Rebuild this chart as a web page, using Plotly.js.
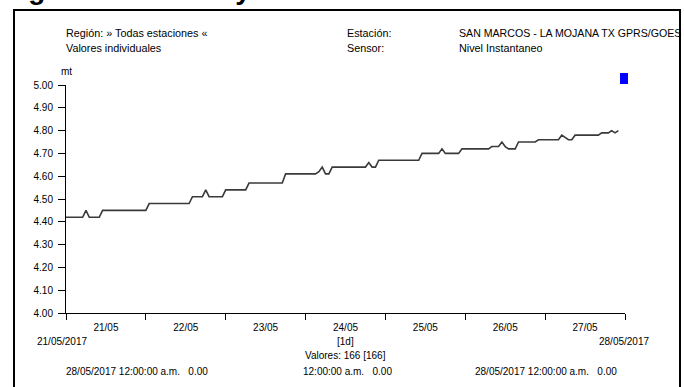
<!DOCTYPE html>
<html>
<head>
<meta charset="utf-8">
<script src="https://cdn.plot.ly/plotly-3.0.1.min.js"></script>
<style>html,body{margin:0;padding:0;background:#fff;}#chart{width:684px;height:387px;}</style>
</head>
<body>
<div id="chart"></div>
<script>
// Hourly water level readings (mt), starting 21/05/2017 00:00
const startTime = '2017-05-21T00:00:00';
const levels = [
  4.42,4.42,4.42,4.42,4.42,4.42,4.45,4.42,4.42,4.42,
  4.42,4.45,4.45,4.45,4.45,4.45,4.45,4.45,4.45,4.45,
  4.45,4.45,4.45,4.45,4.45,4.48,4.48,4.48,4.48,4.48,
  4.48,4.48,4.48,4.48,4.48,4.48,4.48,4.48,4.51,4.51,
  4.51,4.51,4.54,4.51,4.51,4.51,4.51,4.51,4.54,4.54,
  4.54,4.54,4.54,4.54,4.54,4.57,4.57,4.57,4.57,4.57,
  4.57,4.57,4.57,4.57,4.57,4.57,4.61,4.61,4.61,4.61,
  4.61,4.61,4.61,4.61,4.61,4.61,4.62,4.64,4.61,4.61,
  4.64,4.64,4.64,4.64,4.64,4.64,4.64,4.64,4.64,4.64,
  4.64,4.66,4.64,4.64,4.67,4.67,4.67,4.67,4.67,4.67,
  4.67,4.67,4.67,4.67,4.67,4.67,4.67,4.70,4.70,4.70,
  4.70,4.70,4.70,4.72,4.70,4.70,4.70,4.70,4.70,4.72,
  4.72,4.72,4.72,4.72,4.72,4.72,4.72,4.72,4.73,4.73,
  4.73,4.75,4.73,4.72,4.72,4.72,4.75,4.75,4.75,4.75,
  4.75,4.75,4.76,4.76,4.76,4.76,4.76,4.76,4.76,4.78,
  4.77,4.76,4.76,4.78,4.78,4.78,4.78,4.78,4.78,4.78,
  4.78,4.79,4.79,4.79,4.80,4.79,4.80
];
const yTicks = [4.0,4.1,4.2,4.3,4.4,4.5,4.6,4.7,4.8,4.9,5.0];
const yTickLabels = ['4.00','4.10','4.20','4.30','4.40','4.50','4.60','4.70','4.80','4.90','5.00'];
const xRange = ['2017-05-21 00:00:00','2017-05-28 00:00:00'];

const t0 = new Date(startTime + 'Z').getTime();
const times = levels.map((v,i)=> new Date(t0 + i*3600000).toISOString().replace('T',' ').slice(0,19));

const FONT = '"Liberation Sans",Arial,sans-serif';
const W = 684, H = 387, L = 66, R = 59, T = 85, B = 74;
const pw = W - L - R, ph = H - T - B;
const px = x => (x - L) / pw;
const py = y => (H - B - y) / ph;

function txt(text, x, y, xanchor, size) {
  return {text: text, xref:'paper', yref:'paper', x: px(x), y: py(y),
    xanchor: xanchor, yanchor:'middle', showarrow:false,
    font:{family:FONT, size: size || 10, color:'#000'}};
}

const annotations = [
  {text:'<b>Imagen 3. Nivel río y</b>', xref:'paper', yref:'paper', x: px(-22), y: py(7),
   xanchor:'left', yanchor:'bottom', showarrow:false, font:{family:FONT, size:28, color:'#000'}},
  txt('Región: » Todas estaciones «', 64, 33, 'left', 10.8),
  txt('Valores individuales', 64, 48, 'left', 10.8),
  txt('Estación:', 345, 33, 'left', 10.8),
  txt('Sensor:', 345, 48, 'left', 10.8),
  txt('SAN MARCOS - LA MOJANA TX GPRS/GOES', 457, 33, 'left', 10.6),
  txt('Nivel Instantaneo', 457, 48, 'left', 10.8),
  txt('mt', 66, 72, 'center', 10),
  txt('21/05/2017', 62, 341, 'center', 10),
  txt('28/05/2017', 624, 341, 'center', 10),
  txt('[1d]', 345, 341, 'center', 10),
  txt('Valores: 166 [166]', 345, 355, 'center', 10),
  txt('28/05/2017 12:00:00 a.m.&nbsp;&nbsp; 0.00', 64, 371, 'left', 10),
  txt('12:00:00 a.m.&nbsp;&nbsp; 0.00', 347, 371, 'center', 10),
  txt('28/05/2017 12:00:00 a.m.&nbsp;&nbsp; 0.00', 473, 371, 'left', 10)
];

const shapes = [
  {type:'rect', xref:'paper', yref:'paper', x0: px(14), x1: px(680), y0: py(400), y1: py(10),
   line:{color:'#000', width:2}, fillcolor:'rgba(0,0,0,0)', layer:'below'},
  {type:'rect', xref:'paper', yref:'paper', x0: px(620), x1: px(628), y0: py(84), y1: py(73),
   line:{width:0}, fillcolor:'#0000ff'}
];

const trace = {x: times, y: levels, type:'scatter', mode:'lines',
  line:{color:'#3a3a3a', width:1.6}, hoverinfo:'x+y', showlegend:false};

const layout = {
  width: W, height: H,
  margin:{l:L, r:R, t:T, b:B, pad:0},
  paper_bgcolor:'#fff', plot_bgcolor:'#fff',
  showlegend:false,
  font:{family:FONT, size:10, color:'#000'},
  xaxis:{type:'date', range: xRange, dtick: 86400000, tick0: xRange[0],
    tickformat:'%d/%m', ticklabelmode:'period',
    ticks:'outside', ticklen:6, tickcolor:'#000', tickwidth:1, ticklabelstandoff:-1,
    showline:true, linecolor:'#000', linewidth:1, showgrid:false, zeroline:false,
    tickfont:{family:FONT, size:10, color:'#000'}, fixedrange:true},
  yaxis:{range:[4.0,5.0], tickmode:'array', tickvals: yTicks, ticktext: yTickLabels,
    ticks:'outside', ticklen:7, tickcolor:'#000', tickwidth:1, ticklabelstandoff:3,
    showline:true, linecolor:'#000', linewidth:1, showgrid:false, zeroline:false,
    tickfont:{family:FONT, size:10, color:'#000'}, fixedrange:true},
  annotations: annotations,
  shapes: shapes
};

Plotly.newPlot('chart', [trace], layout, {displayModeBar:false, staticPlot:true});
</script>
</body>
</html>
